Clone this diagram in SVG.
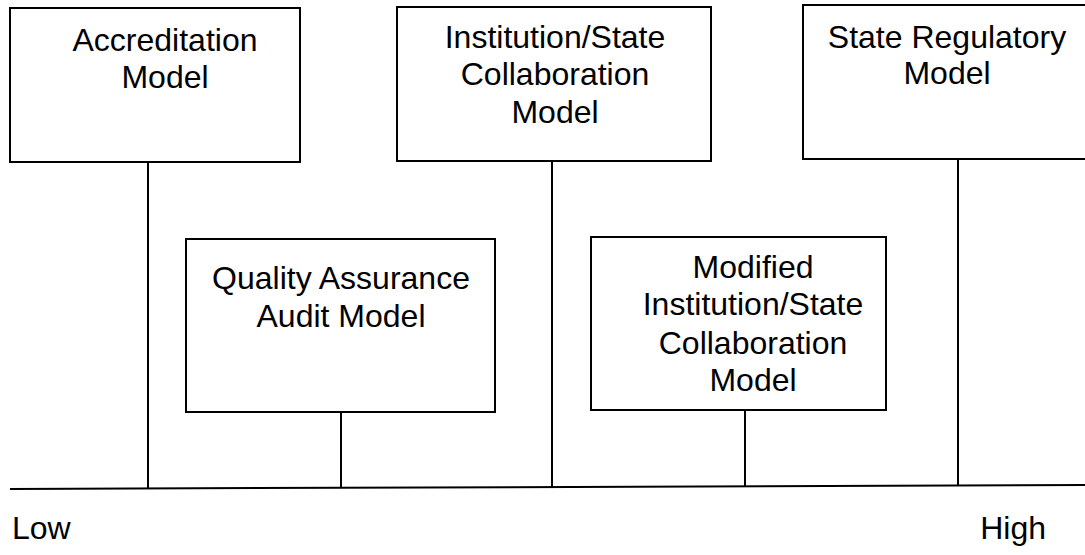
<svg xmlns="http://www.w3.org/2000/svg" width="1085" height="555" viewBox="0 0 1085 555">
<style>
.box{fill:#fff;stroke:#000;stroke-width:2}
.ln{stroke:#000;stroke-width:2;fill:none}
text{font-family:"Liberation Sans",Arial,sans-serif;font-size:32px;fill:#000;text-anchor:middle}
</style>
<rect width="1085" height="555" fill="#fff"/>
<g id="connectors">
<path class="ln" d="M10,489 L1085,485"/>
<path class="ln" d="M148,162 V488"/>
<path class="ln" d="M341,412 V488"/>
<path class="ln" d="M552,161 V487"/>
<path class="ln" d="M745,410 V486"/>
<path class="ln" d="M958,159 V486"/>
</g>
<g id="accreditation">
<rect class="box" x="10" y="8" width="290" height="154"/>
<text x="165" y="51">Accreditation</text>
<text x="165" y="88">Model</text>
</g>
<g id="institution-state">
<rect class="box" x="397" y="7" width="314" height="154"/>
<text x="555" y="48">Institution/State</text>
<text x="555" y="85">Collaboration</text>
<text x="555" y="123">Model</text>
</g>
<g id="state-regulatory">
<rect class="box" x="803" y="5" width="290" height="154"/>
<text x="947" y="48">State Regulatory</text>
<text x="947" y="84">Model</text>
</g>
<g id="quality-assurance">
<rect class="box" x="186" y="239" width="309" height="173"/>
<text x="341" y="289">Quality Assurance</text>
<text x="341" y="327">Audit Model</text>
</g>
<g id="modified">
<rect class="box" x="591" y="237" width="295" height="173"/>
<text x="753" y="278">Modified</text>
<text x="753" y="315">Institution/State</text>
<text x="753" y="354">Collaboration</text>
<text x="753" y="391">Model</text>
</g>
<g id="axis-labels">
<text x="12" y="539" style="text-anchor:start">Low</text>
<text x="1046" y="539" style="text-anchor:end">High</text>
</g>
</svg>
